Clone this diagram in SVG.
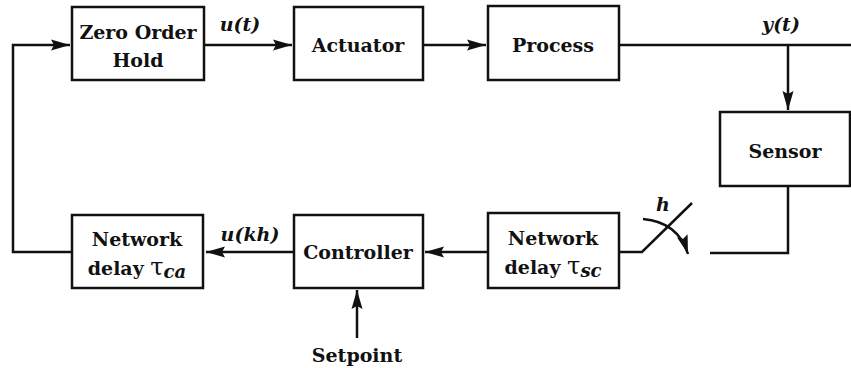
<svg xmlns="http://www.w3.org/2000/svg" width="851" height="368" viewBox="0 0 851 368">
<defs>
<marker id="ah" markerWidth="20" markerHeight="12" refX="19" refY="6" orient="auto" markerUnits="userSpaceOnUse">
<path d="M0,0.5 L19,6 L0,11.5 L3,6 z" fill="#111"/>
</marker>
<style>
.box{fill:#fff;stroke:#111;stroke-width:2.5}
.ln{fill:none;stroke:#111;stroke-width:2.5}
.t{font-family:"DejaVu Serif","Liberation Serif",serif;font-weight:bold;font-size:19px;fill:#111;text-anchor:middle}
.m{font-family:"DejaVu Serif","Liberation Serif",serif;font-weight:bold;font-style:italic;font-size:19px;fill:#111;text-anchor:middle}
</style>
</defs>
<rect width="851" height="368" fill="#fff"/>
<g id="connectors">
<path class="ln" d="M72,252 H13 V45 H70" marker-end="url(#ah)"/>
<path class="ln" d="M204,45 H292" marker-end="url(#ah)"/>
<path class="ln" d="M423,45 H486" marker-end="url(#ah)"/>
<path class="ln" d="M619,45 H851"/>
<path class="ln" d="M788,45 V110" marker-end="url(#ah)"/>
<path class="ln" d="M788,186 V253 H710"/>
<path class="ln" d="M619,252 H642 L692,203"/>
<path class="ln" d="M643,219 Q678,222 688,254" marker-end="url(#ah)"/>
<path class="ln" d="M488,252 H425" marker-end="url(#ah)"/>
<path class="ln" d="M294,252 H206" marker-end="url(#ah)"/>
<path class="ln" d="M357,338 V290" marker-end="url(#ah)"/>
<text class="m" x="240" y="31">u(t)</text>
<text class="m" x="781" y="31">y(t)</text>
<text class="m" x="663" y="211">h</text>
<text class="m" x="250" y="241">u(kh)</text>
<text class="t" x="357" y="362">Setpoint</text>
</g>
<g id="zoh"><rect class="box" x="72" y="7" width="132" height="73"/><text class="t" x="138" y="39">Zero Order</text><text class="t" x="138" y="67">Hold</text></g>
<g id="actuator"><rect class="box" x="294" y="7" width="129" height="73"/><text class="t" x="358" y="52">Actuator</text></g>
<g id="process"><rect class="box" x="488" y="6" width="131" height="74"/><text class="t" x="553" y="52">Process</text></g>
<g id="sensor"><rect class="box" x="720" y="112" width="130" height="74"/><text class="t" x="785" y="158">Sensor</text></g>
<g id="delay_sc"><rect class="box" x="488" y="213" width="131" height="75"/><text class="t" x="553" y="245">Network</text><text class="t" x="553" y="274">delay <tspan font-size="24" font-weight="normal">τ</tspan><tspan font-style="italic" font-size="18" dy="3">sc</tspan></text></g>
<g id="controller"><rect class="box" x="294" y="215" width="129" height="73"/><text class="t" x="358" y="259">Controller</text></g>
<g id="delay_ca"><rect class="box" x="72" y="215" width="131" height="73"/><text class="t" x="137" y="246">Network</text><text class="t" x="137" y="275">delay <tspan font-size="24" font-weight="normal">τ</tspan><tspan font-style="italic" font-size="18" dy="3">ca</tspan></text></g>
</svg>
